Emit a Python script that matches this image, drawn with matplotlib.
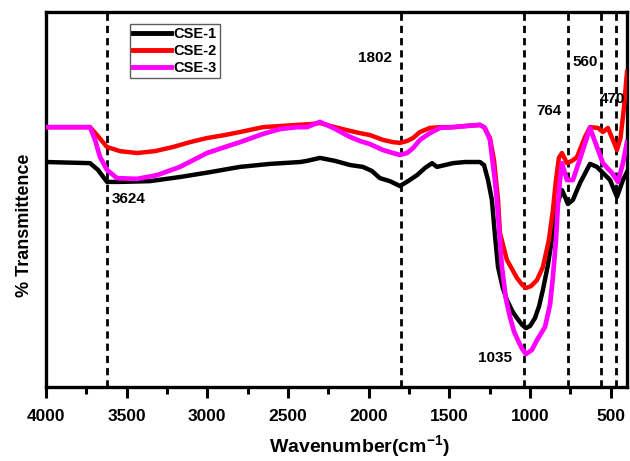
import numpy as np
import matplotlib
matplotlib.use("Agg")
from matplotlib import pyplot as plt
from matplotlib.ticker import MultipleLocator

plt.rcParams['font.family'] = ['Liberation Sans', 'DejaVu Sans']
plt.rcParams['font.weight'] = 'bold'
plt.rcParams['mathtext.fontset'] = 'custom'
plt.rcParams['mathtext.rm'] = 'Liberation Sans:bold'
plt.rcParams['mathtext.bf'] = 'Liberation Sans:bold'

# CSE-1 (black)
black_w = [4000, 3727, 3678, 3622, 3541, 3356, 3170, 2984, 2798, 2612, 2426, 2383, 2302, 2209, 2116,
           2036, 1980, 1931, 1869, 1807, 1757, 1701, 1652, 1608, 1577, 1478, 1404, 1311, 1286, 1261,
           1237, 1218, 1199, 1170, 1144, 1110, 1082, 1050, 1026, 1000, 970, 945, 921, 890, 859, 834, 803, 784, 766, 735,
           691, 629, 586, 549, 505, 462, 425, 400]
black_t = [60.0, 59.7, 57.9, 54.7, 54.7, 54.9, 56.0, 57.3, 58.7, 59.5, 60.0, 60.3, 61.1, 60.3, 59.2,
           58.7, 57.6, 55.7, 54.9, 53.6, 54.9, 56.5, 58.4, 59.7, 58.7, 59.7, 60.0, 60.0, 59.2, 55.2,
           49.9, 40.5, 32.0, 26.5, 23.2, 20.2, 18.4, 16.6, 15.7, 16.3, 18.4, 21.5, 25.9, 32.5, 41.1, 48.5, 52.5, 50.7, 48.8, 49.9,
           54.4, 59.5, 58.7, 57.1, 55.2, 50.7, 55.2, 57.3]

# CSE-2 (red)
red_w = [4000, 3727, 3684, 3622, 3541, 3436, 3325, 3213, 3108, 3002, 2891, 2798, 2655, 2445, 2364,
         2302, 2209, 2135, 2054, 1993, 1912, 1850, 1807, 1763, 1726, 1683, 1621, 1559, 1478, 1404,
         1311, 1286, 1249, 1224, 1199, 1187, 1144, 1082, 1050, 1026, 995, 958, 921, 884, 859, 840,
         822, 803, 772, 741, 710, 660, 629, 580, 549, 518, 487, 462, 440, 419, 400]
red_t = [69.3, 69.3, 67.2, 64.0, 62.9, 62.4, 62.9, 64.0, 65.3, 66.4, 67.2, 68.0, 69.3, 69.9, 70.1,
         70.4, 69.3, 68.5, 67.7, 67.2, 65.9, 65.3, 65.1, 65.6, 66.4, 68.0, 69.1, 69.3, 69.3, 69.6,
         69.9, 69.3, 66.4, 60.5, 49.9, 41.1, 33.9, 29.1, 27.3, 26.4, 26.9, 28.5, 32.0, 39.2, 47.2, 55.2,
         61.1, 62.4, 59.7, 60.3, 61.3, 66.7, 69.3, 69.1, 68.0, 69.1, 65.9, 63.2, 66.4, 74.4, 84.0]

# CSE-3 (magenta)
mag_w = [4000, 3727, 3696, 3665, 3622, 3560, 3436, 3312, 3170, 3002, 2891, 2798, 2655, 2550, 2445,
         2383, 2302, 2221, 2116, 2054, 1993, 1912, 1850, 1807, 1763, 1726, 1683, 1621, 1559, 1478,
         1311, 1280, 1249, 1218, 1206, 1175, 1150, 1125, 1100, 1076, 1050, 1026, 989, 958, 908, 877, 859, 840,
         828, 815, 803, 772, 735, 673, 629, 586, 549, 493, 456, 425, 400]
mag_t = [69.3, 69.3, 65.9, 61.3, 57.9, 55.7, 55.5, 56.5, 58.7, 62.4, 64.0, 65.3, 67.5, 68.8, 69.3,
         69.3, 70.7, 69.1, 66.7, 65.6, 64.8, 63.2, 62.4, 61.9, 62.4, 63.7, 65.9, 67.7, 69.1, 69.3,
         69.9, 69.1, 65.9, 55.0, 49.9, 32.0, 23.5, 18.7, 14.8, 12.5, 10.2, 8.8, 9.9, 12.5, 16.0, 21.9, 29.3, 39.2,
         48.5, 55.2, 59.7, 55.2, 55.2, 63.2, 69.1, 64.0, 59.7, 57.1, 54.7, 59.7, 65.3]

peaks = [3624, 1802, 1035, 764, 560, 470]
peak_labels = ["3624", "1802", "1035", "764", "560", "470"]
label_x = [3486, 1962, 1218, 883, 660, 493]
label_y = [50.1, 87.7, 7.7, 73.6, 86.7, 76.8]

fig = plt.figure(figsize=(6.3, 4.61), dpi=100)
ax = fig.add_axes([0.073, 0.1605, 0.9222, 0.8134])

for p in peaks:
  ax.axvline(p, color='black', lw=2.0, dashes=(2.6, 1.8), zorder=1)

ax.plot(black_w, black_t, color='black', lw=3.2, label='CSE-1', zorder=3)
ax.plot(red_w, red_t, color='#ff0000', lw=3.2, label='CSE-2', zorder=3)
ax.plot(mag_w, mag_t, color='#ff00ff', lw=3.4, label='CSE-3', zorder=3)

for txt, x, y in zip(peak_labels, label_x, label_y):
  ax.text(x, y, txt, fontsize=11, fontweight='bold', ha='center', va='center', zorder=4)

ax.set_xlim(4000, 400)
ax.set_ylim(0, 100)
ax.xaxis.set_major_locator(MultipleLocator(500))
ax.xaxis.set_minor_locator(MultipleLocator(250))
ax.set_yticks([])
ax.tick_params(axis='x', which='major', direction='out', length=8, width=2.2, pad=8, labelsize=12.5)
ax.tick_params(axis='x', which='minor', direction='out', length=5, width=2.2)
for lab in ax.get_xticklabels():
  lab.set_fontweight('bold')
for s in ax.spines.values():
  s.set_linewidth(2.4)

ax.set_xlabel(r'Wavenumber(cm$^{\mathbf{-1}}$)', fontsize=14, fontweight='bold')
ax.xaxis.set_label_coords(0.54, -0.125)
ax.set_ylabel('% Transmittence', fontsize=13, fontweight='bold')
ax.yaxis.set_label_coords(-0.022, 0.43)

leg = ax.legend(loc='upper left', bbox_to_anchor=(0.1446, 0.968), borderaxespad=0,
                handlelength=2.6, handletextpad=0.2, labelspacing=0.22,
                borderpad=0.2, fancybox=False, frameon=True, prop={'weight': 'bold', 'size': 10.5})
leg.get_frame().set_edgecolor('#333333')
leg.get_frame().set_linewidth(1.0)
for h in leg.get_lines():
  h.set_linewidth(3.5)

fig.savefig("out.png", dpi=100)
